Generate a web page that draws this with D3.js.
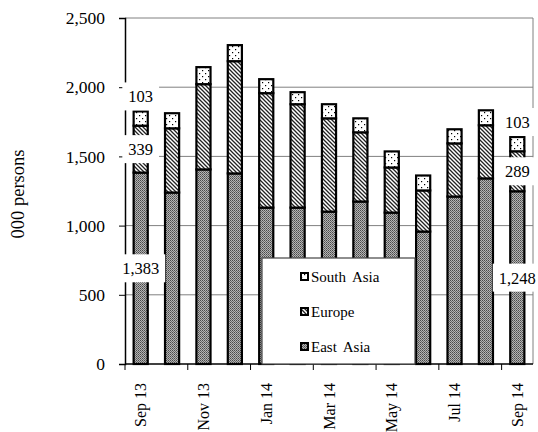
<!DOCTYPE html>
<html><head><meta charset="utf-8">
<script src="https://cdn.jsdelivr.net/npm/d3@7"></script>
<style>body{margin:0;background:#fff}svg{display:block}svg text{font-family:"Liberation Serif","Times New Roman",Tinos,"DejaVu Serif",serif !important}</style>
</head><body>
<script>
const months = ["Sep 13","Oct 13","Nov 13","Dec 13","Jan 14","Feb 14","Mar 14","Apr 14","May 14","Jun 14","Jul 14","Aug 14","Sep 14"];
const eastAsia  = [1383,1239,1406,1377,1130,1130,1101,1174,1094, 957,1210,1341,1248];
const europe    = [ 339, 464, 616, 811, 827, 747, 674, 500, 326, 297, 384, 384, 289];
const southAsia = [ 103, 109, 123, 116, 101,  87, 102, 101, 116, 108, 102, 108, 103];
const yTicks = [0,500,1000,1500,2000,2500];
const seriesNames = ["East Asia","Europe","South Asia"];
const labelIdx = [0,12];

const FF="Liberation Serif, Times New Roman, serif";
const W=538,H=432, L=125, R=533, T=18, B=364;
const svg=d3.select("body").append("svg").attr("width",W).attr("height",H).attr("font-family",FF);
const defs=svg.append("defs");
let p=defs.append("pattern").attr("id","pEast").attr("patternUnits","userSpaceOnUse").attr("width",2).attr("height",2);
p.append("rect").attr("width",2).attr("height",2).attr("fill","#b4b4b4");
p.append("rect").attr("width",1).attr("height",1).attr("fill","#4a4a4a");
p.append("rect").attr("x",1).attr("y",1).attr("width",1).attr("height",1).attr("fill","#6a6a6a");
p=defs.append("pattern").attr("id","pEurope").attr("patternUnits","userSpaceOnUse").attr("width",4).attr("height",4);
p.append("rect").attr("width",4).attr("height",4).attr("fill","#fff");
p.append("path").attr("d","M-1,-1L5,5M-1,3L1,5M3,-1L5,1").attr("stroke","#222").attr("stroke-width",1.3);
p=defs.append("pattern").attr("id","pSouth").attr("patternUnits","userSpaceOnUse").attr("width",6).attr("height",6);
p.append("rect").attr("width",6).attr("height",6).attr("fill","#fff");
p.append("rect").attr("x",1).attr("y",1).attr("width",1.2).attr("height",1.2).attr("fill","#000");
p.append("rect").attr("x",4).attr("y",4).attr("width",1.2).attr("height",1.2).attr("fill","#000");
const fills={"East Asia":"url(#pEast)","Europe":"url(#pEurope)","South Asia":"url(#pSouth)"};

const x=d3.scaleBand().domain(months).range([L,R]).paddingInner(0.55).paddingOuter(0.275);
const y=d3.scaleLinear().domain([0,2500]).range([B,T]);

svg.append("g").selectAll("line").data(yTicks.filter(v=>v>0)).join("line")
  .attr("x1",L).attr("x2",R).attr("y1",d=>y(d)).attr("y2",d=>y(d)).attr("stroke","#808080").attr("stroke-width",1);
svg.append("line").attr("x1",R).attr("x2",R).attr("y1",T).attr("y2",B).attr("stroke","#808080");

const ya=svg.append("g").attr("transform",`translate(${L},0)`).call(d3.axisLeft(y).tickValues(yTicks).tickFormat(d3.format(",")).tickSize(6).tickPadding(14));
ya.attr("font-family",FF).attr("font-size",17.5);
ya.select(".domain").attr("stroke","#000").attr("stroke-width",1.5);
ya.selectAll("text").attr("fill","#000");

const rows=months.map((m,i)=>({m, "East Asia":eastAsia[i], "Europe":europe[i], "South Asia":southAsia[i]}));
const stack=d3.stack().keys(seriesNames)(rows);
const gb=svg.append("g");
stack.forEach(s=>{
  gb.append("g").selectAll("rect").data(s).join("rect")
   .attr("x",d=>x(d.data.m)).attr("width",x.bandwidth())
   .attr("y",d=>y(d[1])).attr("height",d=>y(d[0])-y(d[1]))
   .attr("fill",fills[s.key]).attr("stroke","#000").attr("stroke-width",2.2);
});

const xa=svg.append("g").attr("transform",`translate(0,${B})`);
xa.append("line").attr("x1",L).attr("x2",R).attr("stroke","#000").attr("stroke-width",1.5);
const step=x.step();
const tickPos=d3.range(0,months.length+1,2).map(i=>L+i*step);
xa.selectAll("line.t").data(tickPos).join("line").attr("class","t").attr("x1",d=>d).attr("x2",d=>d).attr("y1",0).attr("y2",6).attr("stroke","#000");
xa.selectAll("text").data(months.filter((m,i)=>i%2===0)).join("text")
  .attr("transform",d=>`translate(${x(d)+x.bandwidth()/2+5.5},19) rotate(-90)`)
  .attr("text-anchor","end").attr("font-size",16).text(d=>d);

const lg=svg.append("g");
lg.append("rect").attr("x",262).attr("y",258).attr("width",153).attr("height",106).attr("fill","#fff").attr("stroke","#444").attr("stroke-width",1.2);
const legItems=["South Asia","Europe","East Asia"];
legItems.forEach((k,i)=>{
  const yy=277+i*35;
  lg.append("rect").attr("x",301).attr("y",yy-4).attr("width",7).attr("height",7).attr("fill",fills[k]).attr("stroke","#000").attr("stroke-width",2);
  lg.append("text").attr("x",311).attr("y",yy+5).attr("font-size",15).attr("word-spacing",3).text(k);
});

const gl=svg.append("g");
labelIdx.forEach(i=>{
  const tot=eastAsia[i]+europe[i]+southAsia[i];
  const segs=[[eastAsia[i],0,eastAsia[i]],[europe[i],eastAsia[i],eastAsia[i]+europe[i]],[southAsia[i],eastAsia[i]+europe[i],tot]];
  segs.forEach((s,j)=>{
    const cx=x(months[i])+x.bandwidth()/2;
    let cy = j===2 ? y(tot)-15 : y((s[1]+s[2])/2);
    const g=gl.append("g");
    const t=g.append("text").attr("x",cx).attr("y",cy+6).attr("text-anchor","middle").attr("font-size",16.5).text(d3.format(",")(s[0]));
    const bb=t.node().getBBox();
    g.insert("rect","text").attr("x",bb.x-6).attr("y",cy-14).attr("width",bb.width+12).attr("height",28).attr("fill","#fff");
  });
});

svg.append("text").attr("transform","translate(24,194) rotate(-90)").attr("text-anchor","middle").attr("font-size",18.5).text("000 persons");
</script>
</body></html>
